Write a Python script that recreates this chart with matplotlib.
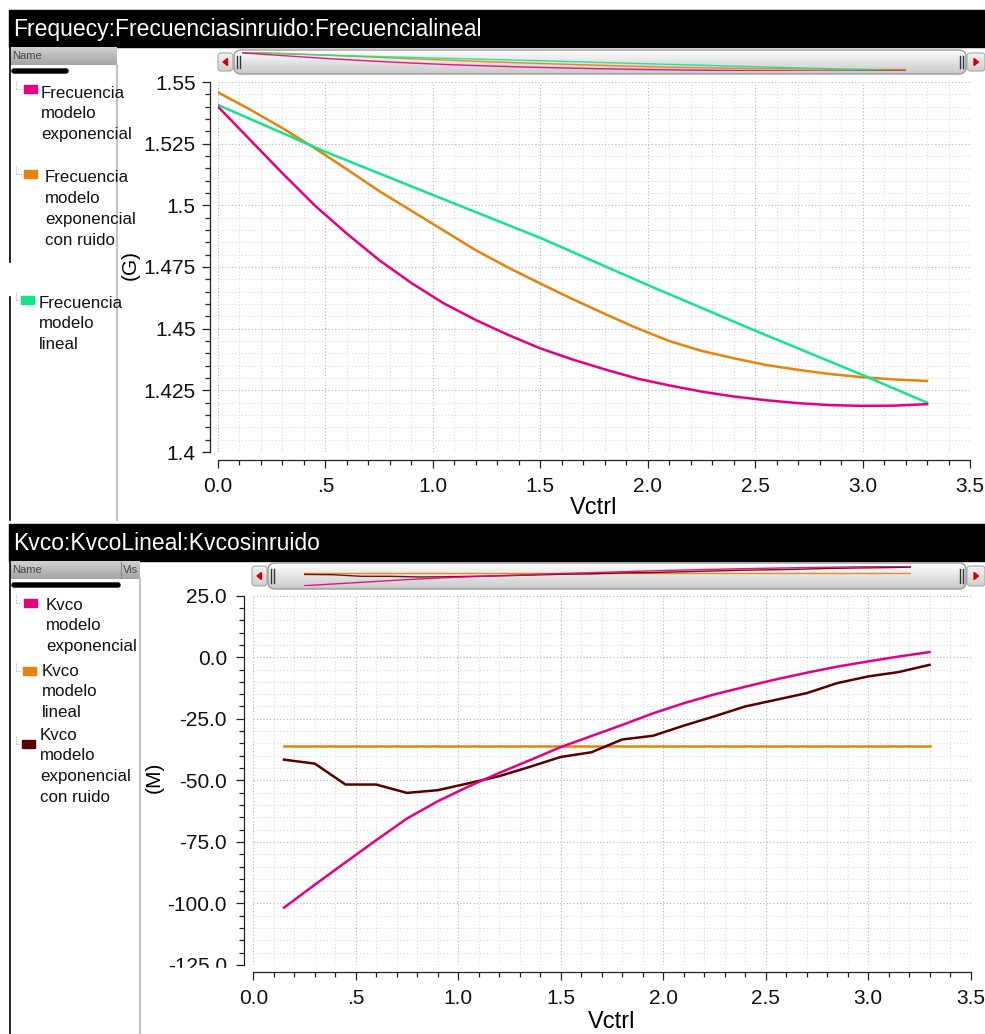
import matplotlib
matplotlib.use("Agg")
import matplotlib.pyplot as plt
import numpy as np
from matplotlib.patches import Rectangle, FancyBboxPatch, Polygon
from matplotlib.ticker import FixedLocator, MultipleLocator

# =============================================================================
# DATA
# =============================================================================
vctrl_freq = [0.0, 0.15, 0.3, 0.45, 0.6, 0.75, 0.9, 1.05, 1.2, 1.35, 1.5, 1.65,
              1.8, 1.95, 2.1, 2.25, 2.4, 2.55, 2.7, 2.85, 3.0, 3.15, 3.3]
freq_exp = [1.5400, 1.5265, 1.5130, 1.5000, 1.4885, 1.4778, 1.4685, 1.4603,
            1.4535, 1.4475, 1.4420, 1.4375, 1.4335, 1.4298, 1.4270, 1.4245,
            1.4225, 1.4210, 1.4198, 1.4190, 1.4187, 1.4188, 1.4194]
freq_exp_ruido = [1.5458, 1.5388, 1.5313, 1.5232, 1.5146, 1.5058, 1.4978, 1.4898,
                  1.4818, 1.4748, 1.4683, 1.4620, 1.4560, 1.4502, 1.4450, 1.4410,
                  1.4380, 1.4353, 1.4333, 1.4316, 1.4303, 1.4294, 1.4288]
vctrl_lin = [0.0, 0.5, 1.0, 1.5, 2.0, 2.5, 3.0, 3.3]
freq_lineal = [1.5407, 1.5217, 1.5042, 1.4868, 1.4677, 1.4492, 1.4312, 1.4200]

vctrl_kvco = [0.15, 0.3, 0.45, 0.6, 0.75, 0.9, 1.05, 1.2, 1.35, 1.5, 1.65,
              1.8, 1.95, 2.1, 2.25, 2.4, 2.55, 2.7, 2.85, 3.0, 3.15, 3.3]
kvco_exp = [-101.7, -92.4, -83.3, -74.3, -65.5, -58.5, -52.5, -47.0, -41.8,
            -36.5, -32.0, -27.5, -22.8, -18.7, -15.1, -12.0, -9.0, -6.3, -3.8,
            -1.7, 0.3, 2.1]
kvco_exp_ruido = [-41.6, -43.2, -51.7, -51.7, -55.1, -54.0, -51.2, -48.3, -44.5,
                  -40.5, -38.6, -33.4, -31.9, -27.8, -24.0, -20.0, -17.3, -14.6,
                  -10.5, -7.8, -6.0, -3.1]
vctrl_kvco_lin = [0.15, 3.3]
kvco_lineal = [-36.2, -36.2]

vctrl_ticks = [0.0, 0.5, 1.0, 1.5, 2.0, 2.5, 3.0, 3.5]
vctrl_ticklabels = ["0.0", ".5", "1.0", "1.5", "2.0", "2.5", "3.0", "3.5"]
freq_yticks = [1.4, 1.425, 1.45, 1.475, 1.5, 1.525, 1.55]
freq_yticklabels = ["1.4", "1.425", "1.45", "1.475", "1.5", "1.525", "1.55"]
kvco_yticks = [-125, -100, -75, -50, -25, 0, 25]
kvco_yticklabels = ["-125.0", "-100.0", "-75.0", "-50.0", "-25.0", "0.0", "25.0"]

freq_title = "Frequecy:Frecuenciasinruido:Frecuencialineal"
kvco_title = "Kvco:KvcoLineal:Kvcosinruido"
freq_legend = [["Frecuencia", "modelo", "exponencial"],
               ["Frecuencia", "modelo", "exponencial", "con ruido"],
               ["Frecuencia", "modelo", "lineal"]]
kvco_legend = [["Kvco", "modelo", "exponencial"],
               ["Kvco", "modelo", "lineal"],
               ["Kvco", "modelo", "exponencial", "con ruido"]]

# =============================================================================
# STYLE
# =============================================================================
PINK = "#e6007e"
ORANGE = "#e5830c"
GREEN = "#14e58a"
DARKRED = "#5a0000"
W, H = 985, 1034
plt.rcParams["font.family"] = ["Liberation Sans", "DejaVu Sans"]


def fig_rect(x0, y0, x1, y1):
    """pixel box (top-left origin) -> figure fraction rect"""
    return [x0 / W, 1 - y1 / H, (x1 - x0) / W, (y1 - y0) / H]


def vgrad(ax, x0, y0, x1, y1, c_top, c_bot, clip=None, z=1):
    a = np.array(matplotlib.colors.to_rgb(c_top))
    b = np.array(matplotlib.colors.to_rgb(c_bot))
    t = np.linspace(0, 1, 64)[:, None, None]
    img = a * (1 - t) + b * t
    im = ax.imshow(img, extent=(x0, x1, y1, y0), aspect="auto",
                   interpolation="bilinear", zorder=z)
    if clip is not None:
        im.set_clip_path(clip)
    return im


def title_bar(bg, y0, y1, text):
    bg.add_patch(Rectangle((9, y0), W - 9, y1 - y0, color="black", zorder=2))
    bg.text(13, (y0 + y1) / 2 + 1, text, color="white", fontsize=16.5,
            va="center", ha="left", zorder=3)


def side_panel(bg, y0, y1, header_right, vis, bar_right, sep_x, legend, colors,
               item_pos, black_gaps):
    vgrad(bg, 10, y0, header_right, y0 + 18, "#d2d2d2", "#a4a4a4", z=2)
    bg.text(12, y0 + 9, "Name", fontsize=8, color="#444444", va="center", zorder=3)
    if vis:
        bg.plot([121, 121], [y0 + 1, y0 + 17], color="#888888", lw=0.8, zorder=3)
        bg.text(123, y0 + 9, "Vis", fontsize=8, color="#444444", va="center", zorder=3)
    bg.add_patch(FancyBboxPatch((12, y0 + 22), bar_right - 14, 4,
                                boxstyle="round,pad=0,rounding_size=2",
                                color="black", zorder=3))
    bg.plot([sep_x, sep_x], [y0 + 18, y1], color="#c4c4c4", lw=1.6, zorder=2)
    for a, b in black_gaps:
        bg.plot([9.5, 9.5], [a, b], color="black", lw=1.2, zorder=2)
    for lines, col, (sq_x, sq_y, tx, ty) in zip(legend, colors, item_pos):
        bg.plot([16, 16], [sq_y - 6, sq_y + 2], color="#bbbbbb", lw=0.8,
                ls=(0, (1, 1)), zorder=2)
        bg.plot([16, sq_x - 2], [sq_y + 2, sq_y + 2], color="#bbbbbb", lw=0.8,
                ls=(0, (1, 1)), zorder=2)
        bg.add_patch(Rectangle((sq_x, sq_y - 2), 13, 8, color=col, zorder=3))
        for k, line in enumerate(lines):
            bg.text(tx, ty + k * 20.7, line, fontsize=12.2, va="center",
                    ha="left", color="#111111", zorder=3)


def scrollbar(bg, fig, x0, x1, y0, y1, mini_box, series, xr, yr):
    # left / right arrow buttons
    for bx0, bx1, d in [(x0, x0 + 15, -1), (x1 - 18, x1, 1)]:
        btn = FancyBboxPatch((bx0, y0 + 3), bx1 - bx0, y1 - y0 - 6,
                             boxstyle="round,pad=0,rounding_size=3",
                             fc="none", ec="#a8a8a8", lw=0.8, zorder=4)
        bg.add_patch(btn)
        vgrad(bg, bx0, y0 + 3, bx1, y1 - 3, "#f4f4f4", "#cfcfcf", clip=btn, z=3)
        cx = (bx0 + bx1) / 2
        cy = (y0 + y1) / 2
        bg.add_patch(Polygon([[cx + 2.5 * d, cy], [cx - 2 * d, cy - 3.5],
                              [cx - 2 * d, cy + 3.5]], color="#d40000", zorder=5))
    # thumb
    tx0, tx1 = x0 + 16, x1 - 19
    thumb = FancyBboxPatch((tx0, y0), tx1 - tx0, y1 - y0,
                           boxstyle="round,pad=0,rounding_size=7",
                           fc="none", ec="#9a9a9a", lw=1.0, zorder=4)
    bg.add_patch(thumb)
    vgrad(bg, tx0, y0, tx1, y1, "#ffffff", "#c9c9c9", clip=thumb, z=3)
    for gx in [tx0 + 3, tx0 + 6, tx1 - 6, tx1 - 3]:
        bg.plot([gx, gx], [y0 + 6, y1 - 6], color="#333333", lw=1.0, zorder=5)
    mini = fig.add_axes(fig_rect(*mini_box))
    mini.axis("off")
    for xs, ys, col in series:
        mini.plot(xs, ys, color=col, lw=1.0, alpha=0.9)
    mini.set_xlim(*xr)
    mini.set_ylim(*yr)


def style_axes(ax, ylim, yticks, yticklabels, yminor, ylabel_pad, xout, yout, xpad):
    ax.set_xlim(0, 3.5)
    ax.set_ylim(*ylim)
    ax.patch.set_alpha(0)
    for s in ["top", "right"]:
        ax.spines[s].set_visible(False)
    ax.spines["left"].set_position(("outward", yout))
    ax.spines["bottom"].set_position(("outward", xout))
    for s in ["left", "bottom"]:
        ax.spines[s].set_color("#222222")
        ax.spines[s].set_linewidth(0.9)
    ax.xaxis.set_major_locator(FixedLocator(vctrl_ticks))
    ax.set_xticklabels(vctrl_ticklabels)
    ax.xaxis.set_minor_locator(MultipleLocator(0.1))
    ax.yaxis.set_major_locator(FixedLocator(yticks))
    ax.set_yticklabels(yticklabels)
    ax.yaxis.set_minor_locator(MultipleLocator(yminor))
    ax.tick_params(which="major", length=6, width=0.9, color="#222222",
                   labelsize=15, labelcolor="#111111")
    ax.tick_params(which="minor", length=3.5, width=0.9, color="#222222")
    ax.tick_params(axis="y", pad=ylabel_pad)
    ax.tick_params(axis="x", pad=xpad)
    ax.grid(which="minor", ls=(0, (1, 2)), color="#dadada", lw=0.8)
    ax.grid(which="major", ls=(0, (1, 2)), color="#b4b4b4", lw=0.8)
    ax.set_axisbelow(True)


# =============================================================================
# FIGURE
# =============================================================================
fig = plt.figure(figsize=(W / 100, H / 100), dpi=100)
bg = fig.add_axes([0, 0, 1, 1])
bg.axis("off")

# ---------------- top: frequency ----------------
title_bar(bg, 10, 47, freq_title)
side_panel(bg, 47, 520, 117, False, 70, 116.5, freq_legend,
           [PINK, ORANGE, GREEN],
           [(24, 87, 41, 93), (24, 172, 45, 178), (21, 298, 39, 303)],
           [(47, 262), (297, 520)])
scrollbar(bg, fig, 218, 985, 50, 74, (242, 52, 906, 71),
          [(vctrl_freq, freq_exp_ruido, ORANGE), (vctrl_lin, freq_lineal, GREEN),
           (vctrl_freq, freq_exp, PINK)],
          (0, 3.3), (1.4188, 1.5458))
bg.text(130, 265, "(G)", rotation=90, fontsize=15, va="center", ha="center")
bg.text(594, 508, "Vctrl", fontsize=17, va="center", ha="center")

ax1 = fig.add_axes(fig_rect(218, 82, 970, 452))
style_axes(ax1, (1.4, 1.55), freq_yticks, freq_yticklabels, 0.005,
           ylabel_pad=4.3, xout=5.8, yout=5.8, xpad=6.5)
ax1.plot(vctrl_freq, freq_exp_ruido, color=ORANGE, lw=1.8)
ax1.plot(vctrl_lin, freq_lineal, color=GREEN, lw=1.8)
ax1.plot(vctrl_freq, freq_exp, color=PINK, lw=1.8)

# ---------------- bottom: Kvco ----------------
title_bar(bg, 524, 561, kvco_title)
side_panel(bg, 561, H, 140, True, 122, 140, kvco_legend,
           [PINK, ORANGE, DARKRED],
           [(24, 601, 46, 605), (23, 669, 42, 671), (22, 742, 40, 735)],
           [(561, H)])
scrollbar(bg, fig, 252, 985, 563, 589, (304, 566, 911, 586),
          [(vctrl_kvco_lin, kvco_lineal, ORANGE), (vctrl_kvco, kvco_exp_ruido, DARKRED),
           (vctrl_kvco, kvco_exp, PINK)],
          (0.15, 3.3), (-103, 3))
bg.text(154, 777, "(M)", rotation=90, fontsize=15, va="center", ha="center")
bg.text(612, 1022, "Vctrl", fontsize=17, va="center", ha="center")

ax2 = fig.add_axes(fig_rect(253.3, 595.7, 970.5, 965))
style_axes(ax2, (-125, 25), kvco_yticks, kvco_yticklabels, 5,
           ylabel_pad=6.5, xout=5, yout=6.5, xpad=6)
ax2.plot(vctrl_kvco_lin, kvco_lineal, color=ORANGE, lw=1.8)
ax2.plot(vctrl_kvco, kvco_exp_ruido, color=DARKRED, lw=1.8)
ax2.plot(vctrl_kvco, kvco_exp, color=PINK, lw=1.8)

bg.set_xlim(0, W)
bg.set_ylim(H, 0)

# the lowest Kvco tick label is cut off in the original tool
cover = fig.add_axes([0, 0, 1, 1])
cover.axis("off")
cover.set_xlim(0, W)
cover.set_ylim(H, 0)
cover.add_patch(Rectangle((160, 968), 78, 16, color="white", zorder=5))

fig.savefig("out.png", dpi=100)
